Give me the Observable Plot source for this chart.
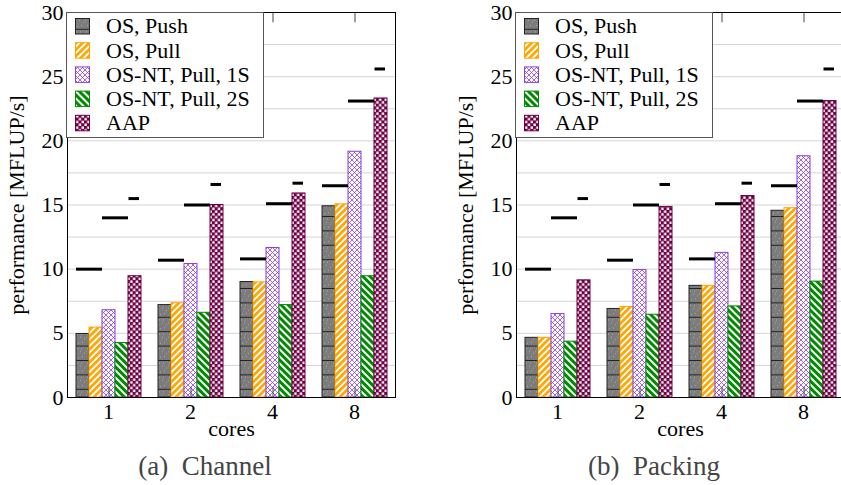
<!DOCTYPE html>
<html><head><meta charset="utf-8">
<script src="https://cdn.jsdelivr.net/npm/d3@7"></script>
<script src="https://cdn.jsdelivr.net/npm/@observablehq/plot@0.6"></script>
<style>
body{margin:0;background:#fff;}
#wrap{position:relative;width:841px;height:485px;overflow:hidden;background:#fff;}
.panel{position:absolute;top:0;width:430px;height:440px;}
.panel svg{max-width:none !important;}
.cap{position:absolute;top:453px;font-family:"Liberation Serif","Times New Roman",Tinos,"DejaVu Serif","Noto Serif",serif;font-size:27px;line-height:1;color:#444;white-space:pre;transform:translateX(-50%);}
</style></head><body>
<svg width="0" height="0" style="position:absolute">
<defs>
  <pattern id="pPush" patternUnits="userSpaceOnUse" width="14" height="14.4">
    <rect width="14" height="14.4" fill="#7c7c7c"/>
    <path d="M0,1 h1 M2,3 h1 M4,1 h1 M6,3 h1 M8,1 h1 M10,3 h1 M12,1 h1 M1,6 h1 M5,8 h1 M9,6 h1 M13,8 h1 M3,11 h1 M7,12 h1 M11,11 h1" stroke="#aaa" stroke-width="1"/>
    <line x1="0" y1="0.5" x2="14" y2="0.5" stroke="#222" stroke-width="1"/>
  </pattern>
  <pattern id="pPull" patternUnits="userSpaceOnUse" width="4.6" height="4.6" patternTransform="rotate(45)">
    <rect width="4.6" height="4.6" fill="#ffffff"/>
    <rect width="2.7" height="4.6" fill="#ffa500"/>
  </pattern>
  <pattern id="p1S" patternUnits="userSpaceOnUse" width="5" height="5">
    <rect width="5" height="5" fill="#ffffff"/>
    <path d="M0,0 L5,5 M5,0 L0,5" stroke="#8a3fe0" stroke-width="0.8"/>
  </pattern>
  <pattern id="p2S" patternUnits="userSpaceOnUse" width="5" height="5" patternTransform="rotate(-45)">
    <rect width="5" height="5" fill="#ffffff"/>
    <rect width="3" height="5" fill="#008a00"/>
  </pattern>
  <pattern id="pAAP" patternUnits="userSpaceOnUse" width="5.6" height="5.6">
    <rect width="5.6" height="5.6" fill="#6e0044"/>
    <rect x="0.4" y="0.4" width="2.4" height="2.4" fill="#ffffff"/>
    <rect x="3.2" y="3.2" width="2.4" height="2.4" fill="#ffffff"/>
  </pattern>
</defs></svg>
<div id="wrap"></div>
<script>
// ---- data ----
const cores = ["1", "2", "4", "8"];
const series = ["OS, Push", "OS, Pull", "OS-NT, Pull, 1S", "OS-NT, Pull, 2S", "AAP"];

// (a) Channel
const channelOSPush   = [4.95, 7.2, 9.0, 14.9];
const channelOSPull   = [5.45, 7.35, 8.97, 15.05];
const channelNT1S     = [6.8, 10.4, 11.65, 19.15];
const channelNT2S     = [4.25, 6.6, 7.2, 9.45];
const channelAAP      = [9.45, 15.0, 15.9, 23.3];

// (b) Packing
const packingOSPush   = [4.65, 6.9, 8.7, 14.55];
const packingOSPull   = [4.65, 7.05, 8.7, 14.75];
const packingNT1S     = [6.5, 9.93, 11.27, 18.8];
const packingNT2S     = [4.35, 6.45, 7.1, 9.03];
const packingAAP      = [9.13, 14.85, 15.7, 23.1];

// black limit dashes (same in both panels)
const limitOS   = [10.0, 10.7, 10.8, 16.5];   // over OS, Push + OS, Pull
const limitNT   = [14.0, 15.0, 15.1, 23.1];   // over OS-NT 1S + 2S
const limitAAP  = [15.5, 16.6, 16.7, 25.6];   // over AAP

const yTicks = [0, 5, 10, 15, 20, 25, 30];
const yGrid = [2.5, 5, 7.5, 10, 12.5, 15, 17.5, 20, 22.5, 25, 27.5];

const FONT = '"Liberation Serif", "Times New Roman", Tinos, "DejaVu Serif", "Noto Serif", serif';

// ---- styles ----
const fills = {
  "OS, Push": "url(#pPush)", "OS, Pull": "url(#pPull)", "OS-NT, Pull, 1S": "url(#p1S)",
  "OS-NT, Pull, 2S": "url(#p2S)", "AAP": "url(#pAAP)"
};
const strokes = {
  "OS, Push": "#222222", "OS, Pull": "#ffa500", "OS-NT, Pull, 1S": "#8a3fe0",
  "OS-NT, Pull, 2S": "#008a00", "AAP": "#6e0044"
};

function makeChart(vals) {
  const data = [];
  series.forEach((s, i) => cores.forEach((c, j) => data.push({series: s, cores: c, value: vals[i][j]})));
  const limSets = [limitOS, limitOS, limitNT, limitNT];
  const lim = [];
  series.slice(0, 4).forEach((s, i) => cores.forEach((c, j) => lim.push({series: s, cores: c, value: limSets[i][j]})));
  const limA = cores.map((c, j) => ({series: "AAP", cores: c, value: limitAAP[j]}));
  const mid = cores.map(c => ({cores: c, series: series[2]}));

  const svg = Plot.plot({
    width: 430, height: 440,
    marginLeft: 66, marginRight: 33.3, marginTop: 12, marginBottom: 43,
    style: {fontFamily: FONT, fontSize: "22px", color: "black", background: "white", overflow: "visible", maxWidth: "none"},
    fx: {domain: cores, padding: 0, label: "cores", labelAnchor: "center", tickSize: 0, tickPadding: 6, labelOffset: 38},
    x: {domain: series, paddingInner: 0, paddingOuter: 0.5, axis: null},
    y: {domain: [0, 30], ticks: yTicks, tickSize: 0, tickPadding: 4, label: "performance [MFLUP/s]",
        labelAnchor: "center", labelOffset: 59, labelArrow: "none"},
    color: {type: "identity"},
    marks: [
      Plot.gridY({ticks: yGrid, stroke: "#d4d4d4", strokeOpacity: 1}),
      Plot.barY(data, {fx: "cores", x: "series", y: "value",
        fill: d => fills[d.series], stroke: d => strokes[d.series], strokeWidth: 1}),
      Plot.tickY(lim, {fx: "cores", x: "series", y: "value", stroke: "black", strokeWidth: 3}),
      Plot.tickY(limA, {fx: "cores", x: "series", y: "value", stroke: "black", strokeWidth: 3, insetLeft: 0.5, insetRight: 2}),
      Plot.ruleX(mid, {fx: "cores", x: "series", y1: 0, y2: 0.8, stroke: "#444"}),
      Plot.ruleX(mid, {fx: "cores", x: "series", y1: 29.2, y2: 30, stroke: "#444"}),
      Plot.frame({facet: "super", stroke: "black"})
    ]
  });

  // legend
  const g = d3.select(svg).append("g").attr("text-anchor", "start");
  g.append("rect").attr("x", 66.5).attr("y", 12.5).attr("width", 197).attr("height", 125)
    .attr("fill", "white").attr("stroke", "#555");
  series.forEach((s, i) => {
    g.append("rect").attr("x", 75.5).attr("y", 18.5 + 24.2 * i).attr("width", 14).attr("height", 15.5)
      .attr("fill", fills[s]).attr("stroke", strokes[s]);
    g.append("text").attr("x", 106).attr("y", 33.3 + 24.2 * i).attr("font-size", 22)
      .attr("text-anchor", "start").attr("font-family", FONT).attr("fill", "black").text(s);
  });
  return svg;
}

const wrap = document.getElementById("wrap");
const left = makeChart([channelOSPush, channelOSPull, channelNT1S, channelNT2S, channelAAP]);
const right = makeChart([packingOSPush, packingOSPull, packingNT1S, packingNT2S, packingAAP]);
const pl = document.createElement("div"); pl.className = "panel"; pl.style.left = "0px"; pl.appendChild(left);
const pr = document.createElement("div"); pr.className = "panel"; pr.style.left = "449px"; pr.appendChild(right);
wrap.appendChild(pl); wrap.appendChild(pr);
const c1 = document.createElement("div"); c1.className = "cap"; c1.style.left = "205px"; c1.textContent = "(a)  Channel";
const c2 = document.createElement("div"); c2.className = "cap"; c2.style.left = "654px"; c2.textContent = "(b)  Packing";
wrap.appendChild(c1); wrap.appendChild(c2);
</script>
</body></html>
